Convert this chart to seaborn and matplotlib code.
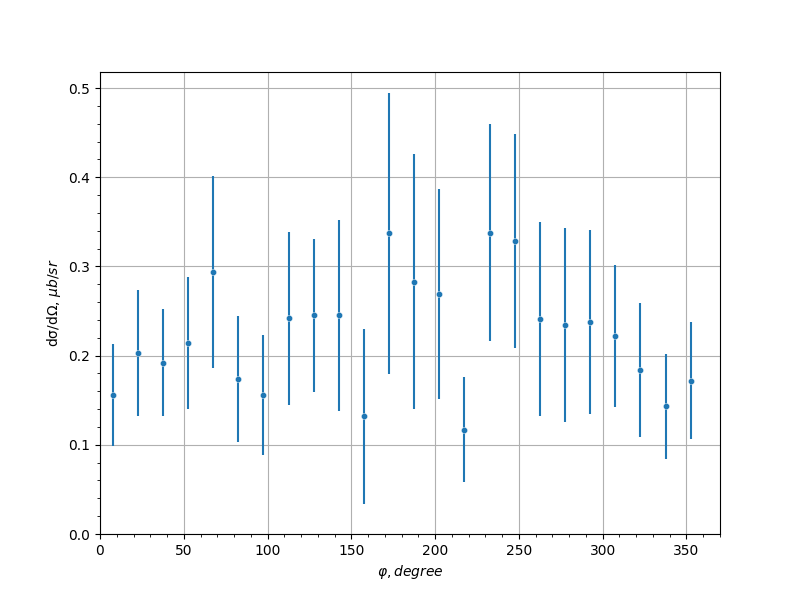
import matplotlib
matplotlib.use("Agg")
import matplotlib.pyplot as plt
import seaborn as sns
import numpy as np
from matplotlib.ticker import MultipleLocator

phi = [7.5, 22.5, 37.5, 52.5, 67.5, 82.5, 97.5, 112.5, 127.5, 142.5, 157.5, 172.5,
       187.5, 202.5, 217.5, 232.5, 247.5, 262.5, 277.5, 292.5, 307.5, 322.5, 337.5, 352.5]
xsec = [0.156, 0.203, 0.192, 0.214, 0.294, 0.174, 0.156, 0.242, 0.245, 0.245, 0.132, 0.337,
        0.283, 0.269, 0.117, 0.338, 0.328, 0.241, 0.234, 0.238, 0.222, 0.184, 0.143, 0.172]
err = [0.057, 0.0705, 0.060, 0.074, 0.1075, 0.0705, 0.067, 0.097, 0.086, 0.107, 0.098, 0.158,
       0.143, 0.118, 0.059, 0.122, 0.120, 0.109, 0.1086, 0.103, 0.0795, 0.075, 0.0588, 0.0655]

fig, ax = plt.subplots(figsize=(8, 6), dpi=100)
ax.errorbar(phi, xsec, yerr=err, fmt='none', ecolor='#1f77b4', elinewidth=1.5, zorder=2)
sns.scatterplot(x=phi, y=xsec, color='#1f77b4', s=20, edgecolor='white', linewidth=0.3,
                ax=ax, zorder=3)

ax.set_xlim(0, 370)
ax.set_ylim(0, 0.518)
ax.xaxis.set_major_locator(MultipleLocator(50))
ax.xaxis.set_minor_locator(MultipleLocator(10))
ax.yaxis.set_major_locator(MultipleLocator(0.1))
ax.yaxis.set_minor_locator(MultipleLocator(0.02))
ax.grid(True, which='major', color='#b0b0b0', linewidth=0.8)
ax.set_axisbelow(True)
ax.set_xlabel(r'$\varphi, degree$')
ax.set_ylabel('dσ/dΩ, $\\mu b/sr$')

fig.savefig('out.png', dpi=100)
